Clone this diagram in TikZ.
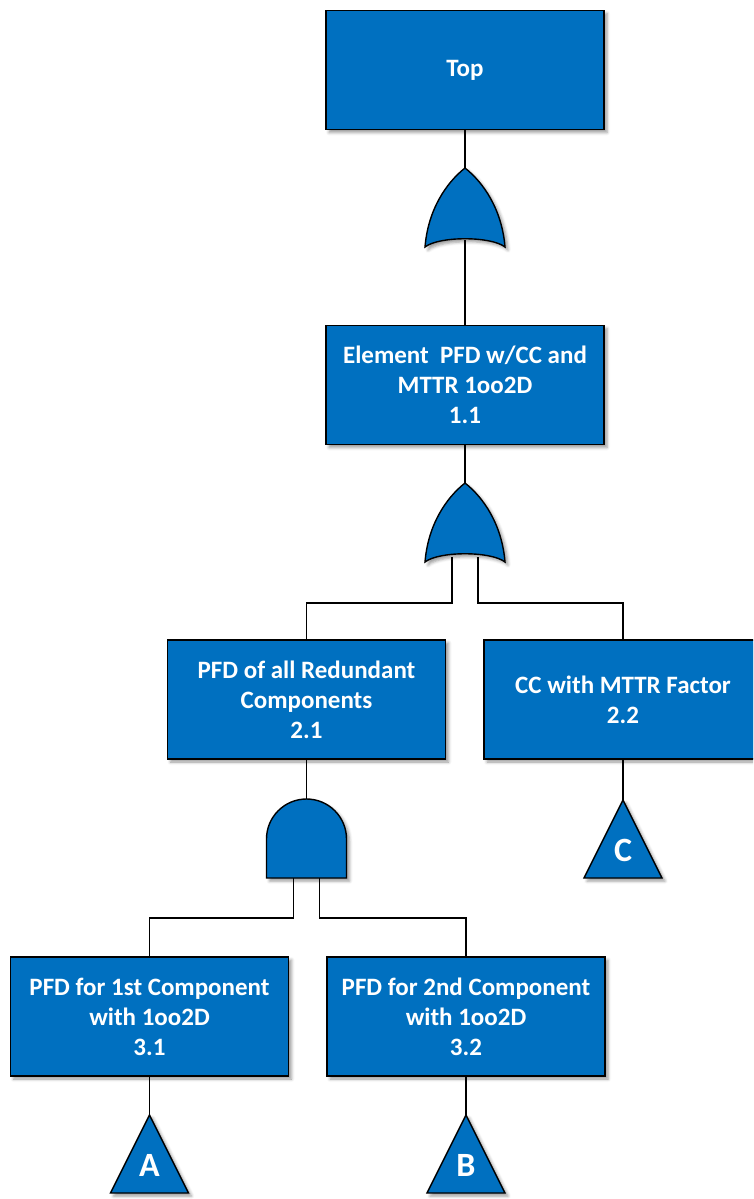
\documentclass[tikz,border=0pt]{standalone}
\usepackage{fontspec}
\setmainfont{Carlito}
\usetikzlibrary{shadows.blur}
\definecolor{ftblue}{HTML}{0070C0}
\pgfdeclarelayer{background}
\pgfsetlayers{background,main}
\tikzset{
  softshadow/.style={blur shadow={shadow xshift=3pt, shadow yshift=-3pt,
      shadow blur radius=3pt, shadow opacity=40}},
  event/.style={draw=black, line width=1.4pt, fill=ftblue, text=white,
      font=\bfseries\fontsize{25}{30}\selectfont, align=center,
      minimum width=278pt, minimum height=119pt, inner sep=0pt, softshadow},
  gateshape/.style={draw=black, line width=1.4pt, fill=ftblue, softshadow},
  wire/.style={draw=black, line width=1.1pt},
  letter/.style={text=white, font=\bfseries\fontsize{34}{40}\selectfont,
      inner sep=0pt},
  % OR gate, origin at its apex
  pics/orgate/.style={code={
    \path[gateshape] (-40,79) .. controls (-37,42) and (-19,15) .. (0,0)
        .. controls (19,15) and (37,42) .. (40,79)
        .. controls (26,68) and (-26,68) .. cycle;
    \coordinate (-in) at (0,0);
    \coordinate (-out) at (0,72);
    \coordinate (-l) at (-13,74);
    \coordinate (-r) at (13,74);
  }},
  % AND gate, origin at the top of its dome
  pics/andgate/.style={code={
    \path[gateshape] (-40,79) -- (-40,40)
        arc[start angle=180, end angle=0, radius=40pt] -- (40,79) -- cycle;
    \coordinate (-in) at (0,0);
    \coordinate (-l) at (-13,78);
    \coordinate (-r) at (13,78);
  }},
  % transfer triangle, origin at its apex
  pics/transfer/.style={code={
    \path[gateshape] (0,0) -- (39,78) -- (-39,78) -- cycle;
    \coordinate (-in) at (0,0);
    \node[letter] (-lbl) at (0,50) {#1};
  }},
}
\begin{document}
\begin{tikzpicture}[x=1pt, y=-1pt]
  \path[use as bounding box, clip] (0,0) rectangle (753,1199);

  % events
  \node[event] (top) at (465,70)      {Top};
  \node[event] (e11) at (465,385)     {Element\ \ PFD w/CC and\\MTTR 1oo2D\\1.1};
  \node[event] (e21) at (306.5,699.5) {PFD of all Redundant\\Components\\2.1};
  \node[event] (e22) at (623,699.5)   {CC with MTTR Factor\\2.2};
  \node[event] (e31) at (149.5,1016.5){PFD for 1st Component\\with 1oo2D\\3.1};
  \node[event] (e32) at (466,1016.5)  {PFD for 2nd Component\\with 1oo2D\\3.2};

  % gates
  \pic (g1) at (465,168) {orgate};
  \pic (g2) at (465,483) {orgate};
  \pic (g3) at (306.5,799) {andgate};

  % transfer symbols
  \pic (tA) at (149.5,1115) {transfer=A};
  \pic (tB) at (466,1115)   {transfer=B};
  \pic (tC) at (623,800)    {transfer=C};

  % bus levels
  \coordinate (bus2) at (0,603);
  \coordinate (bus3) at (0,918);

  % connectors
  \begin{pgfonlayer}{background}
    \draw[wire] (top.south) -- (g1-in);
    \draw[wire] (g1-out) -- (e11.north);
    \draw[wire] (e11.south) -- (g2-in);
    \draw[wire] (g2-l) -- (g2-l |- bus2) -| (e21.north);
    \draw[wire] (g2-r) -- (g2-r |- bus2) -| (e22.north);
    \draw[wire] (e21.south) -- (g3-in);
    \draw[wire] (g3-l) -- (g3-l |- bus3) -| (e31.north);
    \draw[wire] (g3-r) -- (g3-r |- bus3) -| (e32.north);
    \draw[wire] (e22.south) -- (tC-in);
    \draw[wire] (e31.south) -- (tA-in);
    \draw[wire] (e32.south) -- (tB-in);
  \end{pgfonlayer}
\end{tikzpicture}
\end{document}
